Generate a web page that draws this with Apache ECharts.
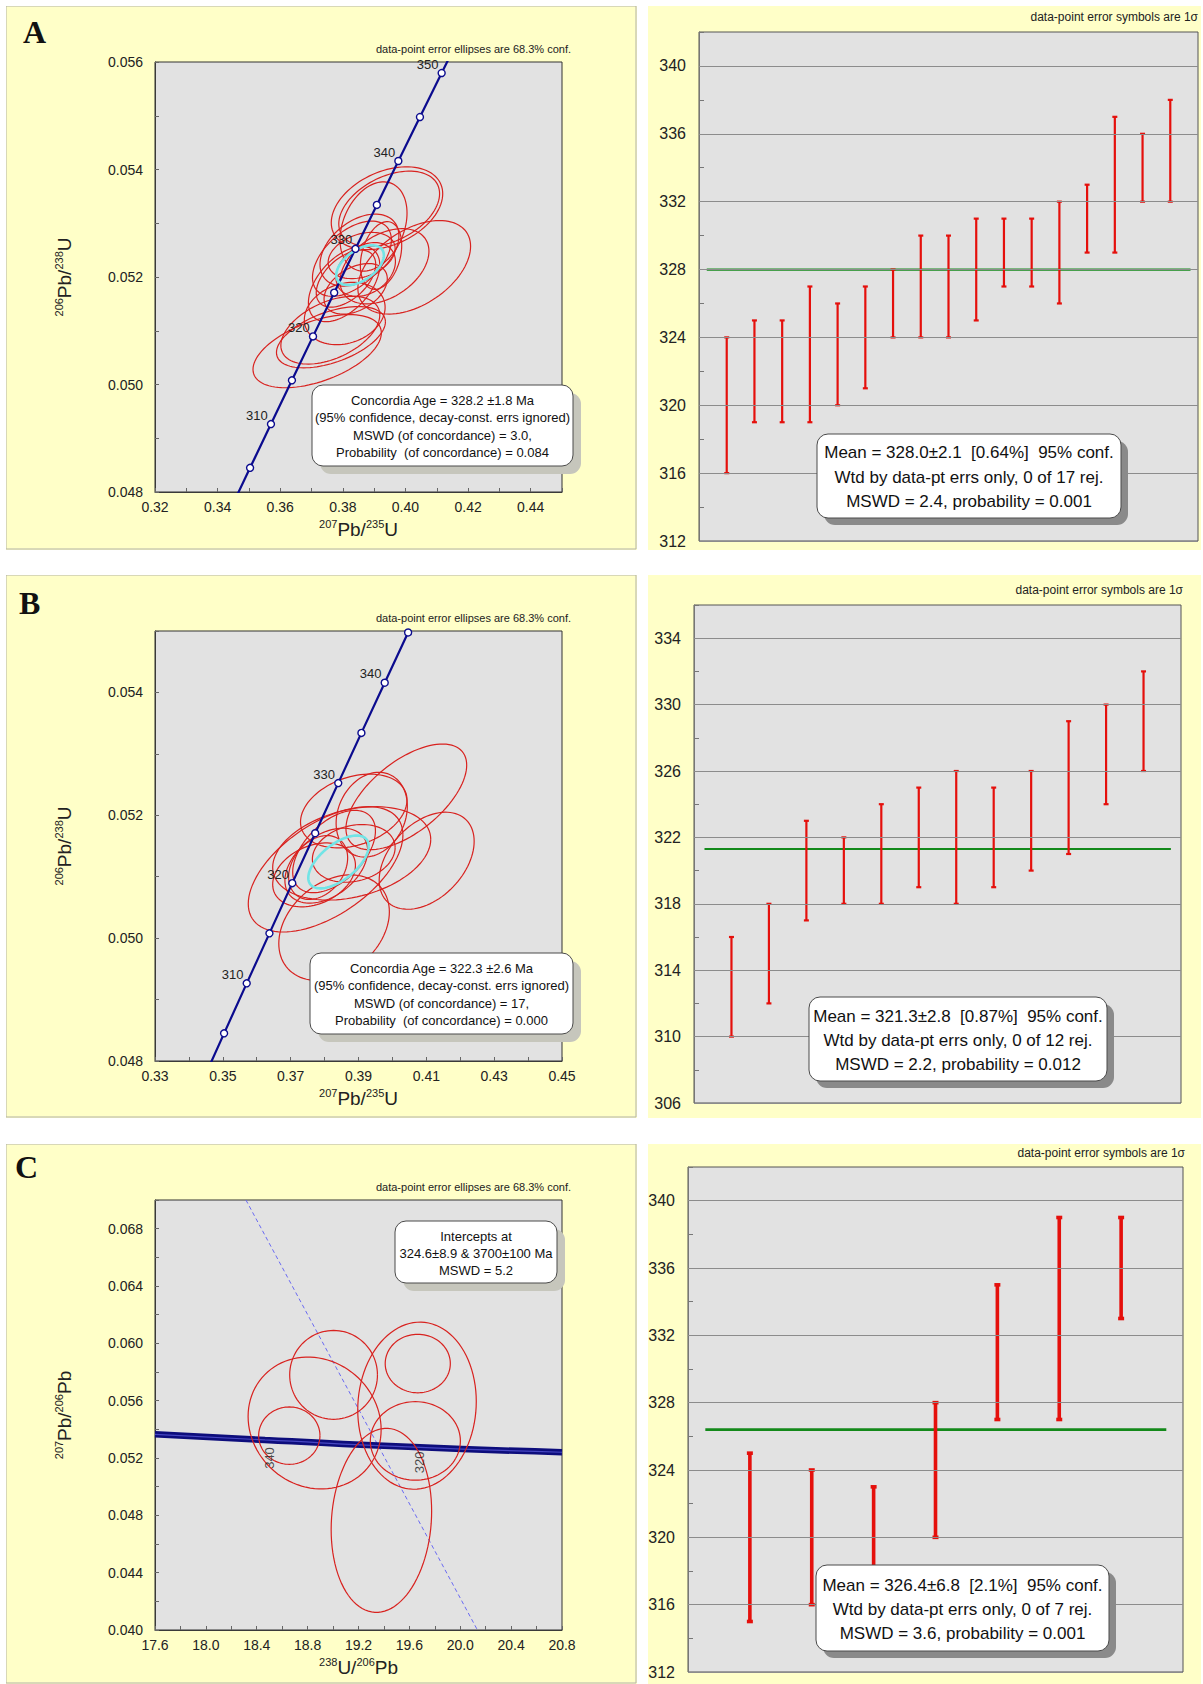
<!DOCTYPE html>
<html>
<head>
<meta charset="utf-8">
<title>U-Pb concordia and weighted mean ages</title>
<script src="https://cdn.jsdelivr.net/npm/echarts@6.0.0/dist/echarts.min.js"></script>
<style>
  html, body { margin: 0; padding: 0; background: #fff; }
  body { position: relative; width: 1203px; height: 1684px; overflow: hidden; }
  .panel { position: absolute; }
</style>
</head>
<body>
<div id="pA1" class="panel" style="left:6px;top:6px;width:631px;height:544px"></div>
<div id="pA2" class="panel" style="left:648px;top:6px;width:553px;height:544px"></div>
<div id="pB1" class="panel" style="left:6px;top:575px;width:631px;height:543px"></div>
<div id="pB2" class="panel" style="left:648px;top:575px;width:553px;height:543px"></div>
<div id="pC1" class="panel" style="left:6px;top:1144px;width:631px;height:540px"></div>
<div id="pC2" class="panel" style="left:648px;top:1144px;width:553px;height:540px"></div>
<script>
const FONT = "'Liberation Sans', Arial, Helvetica, sans-serif";
const RED = '#d8221f';
const NAVY = '#0b0b8e';

// Wetherill concordia, 5 Ma marks (age Ma, 207Pb/235U, 206Pb/238U)
const ccAge = [300, 305, 310, 315, 320, 325, 330, 335, 340, 345, 350, 355];
const cc207_235 = [0.34374, 0.35037, 0.35704, 0.36374, 0.37047, 0.37723, 0.38403, 0.39086, 0.39773, 0.40463, 0.41156, 0.41853];
const cc206_238 = [0.047637, 0.048450, 0.049264, 0.050078, 0.050895, 0.051708, 0.052524, 0.053341, 0.054158, 0.054976, 0.055795, 0.056614];

// error ellipses: [x, y, sx, sy, rho]
const ellA = [
  [0.3718, 0.05062, 0.0205, 0.00068, 0.5],
  [0.3762, 0.05088, 0.0174, 0.00057, 0.5],
  [0.3760, 0.05101, 0.0158, 0.00063, 0.45],
  [0.3806, 0.05132, 0.0129, 0.00058, 0.2],
  [0.3941, 0.05328, 0.0178, 0.00077, 0.35],
  [0.3948, 0.05327, 0.0161, 0.00070, 0.4],
  [0.3898, 0.05294, 0.0107, 0.00083, 0.3],
  [0.4028, 0.05218, 0.0180, 0.00087, 0.45],
  [0.3829, 0.05234, 0.0126, 0.00070, 0.5],
  [0.3853, 0.05250, 0.0126, 0.00067, 0.4],
  [0.3860, 0.05240, 0.0107, 0.00043, 0.3],
  [0.3933, 0.05220, 0.0142, 0.00070, 0.4],
  [0.3804, 0.05187, 0.0114, 0.00070, 0.5],
  [0.3873, 0.05214, 0.0095, 0.00050, 0.3],
  [0.3922, 0.05240, 0.0066, 0.00063, 0.3],
  [0.3841, 0.05178, 0.0101, 0.00047, 0.4],
  [0.3810, 0.05197, 0.0095, 0.00053, 0.5]
];
const ageEllA = [[0.3855, 0.05222, 0.0076, 0.00037, 0.5]];

const ellB = [
  [0.4041, 0.05230, 0.0178, 0.00086, 0.6],
  [0.4101, 0.05126, 0.0140, 0.00079, 0.4],
  [0.3803, 0.05112, 0.0228, 0.00102, 0.55],
  [0.3828, 0.05017, 0.0163, 0.00086, 0.3],
  [0.3886, 0.05207, 0.0157, 0.00060, 0.3],
  [0.3880, 0.05138, 0.0233, 0.00076, 0.3],
  [0.3939, 0.05201, 0.0105, 0.00069, 0.2],
  [0.3805, 0.05118, 0.0122, 0.00061, 0.4],
  [0.3769, 0.05103, 0.0122, 0.00052, 0.3],
  [0.3828, 0.05141, 0.0122, 0.00067, 0.5],
  [0.3886, 0.05138, 0.0122, 0.00047, 0.2],
  [0.3781, 0.05115, 0.0087, 0.00052, 0.3]
];
const ageEllB = [[0.3841, 0.05124, 0.0089, 0.00043, 0.6]];

// Tera-Wasserburg panel
const ellC = [
  [18.855, 0.05444, 0.523, 0.00460, -0.1],
  [19.004, 0.05780, 0.345, 0.00310, 0],
  [18.656, 0.05356, 0.241, 0.00200, 0],
  [19.660, 0.05565, 0.466, 0.00583, 0.05],
  [19.666, 0.05859, 0.256, 0.00204, 0],
  [19.647, 0.05319, 0.354, 0.00274, 0],
  [19.380, 0.04765, 0.395, 0.00642, 0.1]
];
const twX = [17.6, 18.465, 19.637, 20.8];
const twY = [0.05365, 0.05326, 0.05276, 0.05240];
const twLabel = ['340', '320'];
const twLabelX = [18.50, 19.68];
const twLabelY = [0.0520, 0.0517];
const discordX = [18.315, 20.135];
const discordY = [0.070, 0.040];

// weighted-mean plots (1 sigma ranges, Ma)
const loA = [316, 319, 319, 319, 320, 321, 324, 324, 324, 325, 327, 327, 326, 329, 329, 332, 332];
const hiA = [324, 325, 325, 327, 326, 327, 328, 330, 330, 331, 331, 331, 332, 333, 337, 336, 338];
const meanA = 328.0;
const loB = [310, 312, 317, 318, 318, 319, 318, 319, 320, 321, 324, 326];
const hiB = [316, 318, 323, 322, 324, 325, 326, 325, 326, 329, 330, 332];
const meanB = 321.3;
const loC = [315, 316, 317, 320, 327, 327, 333];
const hiC = [325, 324, 323, 328, 335, 339, 339];
const meanC = 326.4;

// tick labels
const xLabA = ['0.32', '0.34', '0.36', '0.38', '0.40', '0.42', '0.44'];
const yLabA = ['0.048', '0.050', '0.052', '0.054', '0.056'];
const xLabB = ['0.33', '0.35', '0.37', '0.39', '0.41', '0.43', '0.45'];
const yLabB = ['0.048', '0.050', '0.052', '0.054'];
const xLabC = ['17.6', '18.0', '18.4', '18.8', '19.2', '19.6', '20.0', '20.4', '20.8'];
const yLabC = ['0.040', '0.044', '0.048', '0.052', '0.056', '0.060', '0.064', '0.068'];
const yLabRA = [312, 316, 320, 324, 328, 332, 336, 340];
const yLabRB = [306, 310, 314, 318, 322, 326, 330, 334];
const yLabRC = [312, 316, 320, 324, 328, 332, 336, 340];

const boxA = ['Concordia Age = 328.2 \u00b11.8 Ma', '(95% confidence, decay-const. errs ignored)', 'MSWD (of concordance) = 3.0,', 'Probability  (of concordance) = 0.084'];
const boxB = ['Concordia Age = 322.3 \u00b12.6 Ma', '(95% confidence, decay-const. errs ignored)', 'MSWD (of concordance) = 17,', 'Probability  (of concordance) = 0.000'];
const boxC = ['Intercepts at', '324.6\u00b18.9 & 3700\u00b1100 Ma', 'MSWD = 5.2'];
const boxRA = ['Mean = 328.0\u00b12.1  [0.64%]  95% conf.', 'Wtd by data-pt errs only, 0 of 17 rej.', 'MSWD = 2.4, probability = 0.001'];
const boxRB = ['Mean = 321.3\u00b12.8  [0.87%]  95% conf.', 'Wtd by data-pt errs only, 0 of 12 rej.', 'MSWD = 2.2, probability = 0.012'];
const boxRC = ['Mean = 326.4\u00b16.8  [2.1%]  95% conf.', 'Wtd by data-pt errs only, 0 of 7 rej.', 'MSWD = 3.6, probability = 0.001'];

const noteL = 'data-point error ellipses are 68.3% conf.';
const noteR = 'data-point error symbols are 1\u03c3';

function pick(list) {
  return function (v) {
    for (const s of list) {
      if (Math.abs(parseFloat(s) - v) < 1e-9) return String(s);
    }
    return '';
  };
}

function ellipseItem(color, width) {
  return function (params, api) {
    const cx = api.value(0), cy = api.value(1), sx = api.value(2), sy = api.value(3), r = api.value(4);
    const k = Math.sqrt(1 - r * r);
    const pts = [];
    for (let i = 0; i <= 96; i++) {
      const t = i / 96 * Math.PI * 2;
      pts.push(api.coord([cx + sx * Math.cos(t), cy + sy * (r * Math.cos(t) + k * Math.sin(t))]));
    }
    return { type: 'polyline', silent: true, shape: { points: pts }, style: { fill: null, stroke: color, lineWidth: width } };
  };
}

function errBarItem(width, cap) {
  return function (params, api) {
    const top = api.coord([api.value(0), api.value(2)]);
    const bot = api.coord([api.value(0), api.value(1)]);
    const st = { stroke: '#e5100c', lineWidth: width };
    return {
      type: 'group', children: [
        { type: 'line', shape: { x1: top[0], y1: top[1], x2: bot[0], y2: bot[1] }, style: st },
        { type: 'line', shape: { x1: top[0] - cap, y1: top[1], x2: top[0] + cap, y2: top[1] }, style: st },
        { type: 'line', shape: { x1: bot[0] - cap, y1: bot[1], x2: bot[0] + cap, y2: bot[1] }, style: st }
      ]
    };
  };
}

function infoBox(b) {
  return [
    { type: 'rect', x: b.x + b.sh, y: b.y + b.sh, z: 100, shape: { width: b.w, height: b.h, r: 11 }, style: { fill: b.shColor } },
    { type: 'rect', x: b.x, y: b.y, z: 101, shape: { width: b.w, height: b.h, r: 11 }, style: { fill: '#fff', stroke: '#4a4a4a', lineWidth: 1 } },
    { type: 'text', x: b.x + b.w / 2, y: b.y + b.h / 2 + 1, z: 102, style: { text: b.lines.join('\n'), fontSize: b.fs, fontFamily: FONT, fill: '#111', align: 'center', verticalAlign: 'middle', lineHeight: b.lh } }
  ];
}

const nameRich = {
  s: { fontSize: 11, fontFamily: FONT, color: '#222', verticalAlign: 'top', lineHeight: 11 },
  b: { fontSize: 19, fontFamily: FONT, color: '#222', lineHeight: 22 }
};

function leftAxis(min, max, step, labels, name, isX) {
  return {
    type: 'value', min: min, max: max, interval: step,
    axisLine: { show: true, onZero: false, lineStyle: { color: '#3a3a3a', width: 1 } },
    axisTick: { show: true, inside: true, length: 4, lineStyle: { color: '#666' } },
    splitLine: { show: false },
    axisLabel: { formatter: pick(labels), color: '#222', fontSize: 14, fontFamily: FONT, margin: isX ? 8 : 12 },
    name: name, nameLocation: 'middle', nameGap: isX ? 21 : 80, nameRotate: isX ? 0 : 90,
    nameTextStyle: { rich: nameRich }
  };
}

function leftOption(p) {
  return {
    animation: false,
    backgroundColor: '#ffffc8',
    grid: { left: 149, top: 56, width: 407, height: 430, show: true, backgroundColor: '#e2e2e2', borderColor: '#333', borderWidth: 1, outerBoundsMode: 'none' },
    xAxis: leftAxis(p.xMin, p.xMax, p.xStep, p.xLab, p.xName, true),
    yAxis: leftAxis(p.yMin, p.yMax, p.yStep, p.yLab, p.yName, false),
    graphic: {
      elements: [
        { type: 'rect', x: 0, y: 0, shape: { width: 630, height: p.h - 1 }, style: { fill: null, stroke: '#b2b2a6', lineWidth: 1 } },
        { type: 'text', x: p.letter[1], y: p.letter[2], style: { text: p.letter[0], fontSize: 32, fontWeight: 'bold', fontFamily: "'Liberation Serif', 'Times New Roman', serif", fill: '#111', align: 'left', verticalAlign: 'middle' } },
        { type: 'text', x: 565, y: p.noteY, style: { text: noteL, fontSize: 11, fontFamily: FONT, fill: '#222', align: 'right', verticalAlign: 'middle' } }
      ].concat(infoBox(p.box))
    },
    series: p.series
  };
}

function wetherillSeries(ell, ageEll, xMin, xMax, yMin, yMax) {
  const curve = ccAge.map((a, i) => [cc207_235[i], cc206_238[i]]);
  const marks = [];
  ccAge.forEach((a, i) => {
    const x = cc207_235[i], y = cc206_238[i];
    if (x >= xMin && x <= xMax && y >= yMin && y <= yMax) {
      marks.push({ value: [x, y, a], label: { show: a % 10 === 0 } });
    }
  });
  return [
    { type: 'custom', renderItem: ellipseItem(RED, 1.2), data: ell, clip: true, z: 2 },
    { type: 'line', data: curve, showSymbol: false, clip: true, lineStyle: { color: NAVY, width: 2.2 }, z: 3 },
    { type: 'custom', renderItem: ellipseItem('#72e4e6', 2.6), data: ageEll, clip: true, z: 4 },
    {
      type: 'scatter', data: marks, symbol: 'circle', symbolSize: 7, z: 5,
      itemStyle: { color: '#ffffff', borderColor: NAVY, borderWidth: 1.4, opacity: 1 },
      label: { position: 'left', distance: 0, offset: [1, -9], formatter: d => String(d.value[2]), color: '#222', fontSize: 13, fontFamily: FONT }
    }
  ];
}

function rightOption(p) {
  const n = p.lo.length;
  return {
    animation: false,
    backgroundColor: '#ffffc8',
    grid: { left: p.grid[0], top: p.grid[1], width: p.grid[2], height: p.grid[3], show: true, backgroundColor: '#e2e2e2', borderColor: '#555', borderWidth: 1, outerBoundsMode: 'none' },
    xAxis: { type: 'value', min: 0, max: n + 1, show: false },
    yAxis: {
      type: 'value', min: p.yMin, max: p.yMax, interval: 2,
      axisLine: { show: true, lineStyle: { color: '#777' } },
      axisTick: { show: true, inside: true, length: 5, lineStyle: { color: '#777' } },
      splitLine: { show: false },
      axisLabel: { formatter: pick(p.yLab), color: '#222', fontSize: 16, fontFamily: FONT, margin: 13 }
    },
    graphic: {
      elements: [
        { type: 'text', x: p.noteX, y: p.noteY, style: { text: noteR, fontSize: 12, fontFamily: FONT, fill: '#222', align: 'right', verticalAlign: 'middle' } }
      ].concat(infoBox(p.box))
    },
    series: [
      {
        type: 'line', data: [[0.28, p.mean], [n + 0.73, p.mean]], symbol: 'none', z: 2,
        lineStyle: { color: '#13891a', width: p.meanW },
        markLine: {
          silent: true, symbol: ['none', 'none'], animation: false, label: { show: false },
          lineStyle: { color: '#8c8c8c', width: 1, type: 'solid' },
          emphasis: { disabled: true },
          data: p.yLab.map(v => ({ yAxis: v }))
        }
      },
      { type: 'custom', renderItem: errBarItem(p.barW, p.cap), data: p.lo.map((l, i) => [i + 1, l, p.hi[i]]), z: 3 }
    ]
  };
}

const shL = '#c6c6bc';
const shR = '#8a8a8a';

// ---- A left
echarts.init(document.getElementById('pA1'), null, { renderer: 'svg' }).setOption(leftOption({
  h: 544, letter: ['A', 17, 26], noteY: 43,
  xMin: 0.32, xMax: 0.45, xStep: 0.01, xLab: xLabA, xName: '{s|207}{b|Pb/}{s|235}{b|U}',
  yMin: 0.048, yMax: 0.056, yStep: 0.001, yLab: yLabA, yName: '{s|206}{b|Pb/}{s|238}{b|U}',
  box: { x: 306, y: 379, w: 261, h: 81, sh: 8, shColor: shL, lines: boxA, fs: 13, lh: 17.5 },
  series: wetherillSeries(ellA, ageEllA, 0.32, 0.45, 0.048, 0.056)
}));

// ---- B left
echarts.init(document.getElementById('pB1'), null, { renderer: 'svg' }).setOption(leftOption({
  h: 543, letter: ['B', 13, 28], noteY: 43,
  xMin: 0.33, xMax: 0.45, xStep: 0.01, xLab: xLabB, xName: '{s|207}{b|Pb/}{s|235}{b|U}',
  yMin: 0.048, yMax: 0.055, yStep: 0.001, yLab: yLabB, yName: '{s|206}{b|Pb/}{s|238}{b|U}',
  box: { x: 304, y: 378, w: 263, h: 81, sh: 8, shColor: shL, lines: boxB, fs: 13, lh: 17.5 },
  series: wetherillSeries(ellB, ageEllB, 0.33, 0.45, 0.048, 0.055)
}));

// ---- C left (Tera-Wasserburg)
const twLabels = twLabel.map((t, i) => ({ value: [twLabelX[i], twLabelY[i]], name: t }));
echarts.init(document.getElementById('pC1'), null, { renderer: 'svg' }).setOption(leftOption({
  h: 540, letter: ['C', 9, 23], noteY: 43,
  xMin: 17.6, xMax: 20.8, xStep: 0.2, xLab: xLabC, xName: '{s|238}{b|U/}{s|206}{b|Pb}',
  yMin: 0.040, yMax: 0.070, yStep: 0.002, yLab: yLabC, yName: '{s|207}{b|Pb/}{s|206}{b|Pb}',
  box: { x: 389, y: 77, w: 162, h: 62, sh: 8, shColor: shL, lines: boxC, fs: 13, lh: 17 },
  series: [
    { type: 'line', data: discordX.map((x, i) => [x, discordY[i]]), showSymbol: false, clip: true, lineStyle: { color: '#6a6af2', width: 1, type: [4, 3] }, z: 2 },
    { type: 'line', data: twX.map((x, i) => [x, twY[i]]), showSymbol: false, clip: true, smooth: true, lineStyle: { color: '#0d0d7c', width: 6.5 }, z: 3 },
    { type: 'line', data: twX.map((x, i) => [x, twY[i]]), showSymbol: false, clip: true, smooth: true, lineStyle: { color: '#4848c2', width: 1.2 }, z: 3 },
    { type: 'custom', renderItem: ellipseItem(RED, 1.2), data: ellC, clip: true, z: 4 },
    {
      type: 'scatter', data: twLabels, symbolSize: 0, z: 5,
      label: { show: true, position: 'inside', rotate: 90, formatter: d => d.name, color: '#222', fontSize: 13, fontFamily: FONT }
    }
  ]
}));

// ---- right panels
echarts.init(document.getElementById('pA2'), null, { renderer: 'svg' }).setOption(rightOption({
  grid: [51, 26, 499, 509], yMin: 312, yMax: 342, yLab: yLabRA,
  lo: loA, hi: hiA, mean: meanA, meanW: 2.2, barW: 2.2, cap: 2.5,
  noteX: 550, noteY: 11,
  box: { x: 169, y: 428, w: 304, h: 84, sh: 7, shColor: shR, lines: boxRA, fs: 17, lh: 24.5 }
}));

echarts.init(document.getElementById('pB2'), null, { renderer: 'svg' }).setOption(rightOption({
  grid: [46, 30, 487, 498], yMin: 306, yMax: 336, yLab: yLabRB,
  lo: loB, hi: hiB, mean: meanB, meanW: 2.2, barW: 2.2, cap: 2.5,
  noteX: 535, noteY: 15,
  box: { x: 161, y: 422, w: 298, h: 84, sh: 7, shColor: shR, lines: boxRB, fs: 17, lh: 24 }
}));

echarts.init(document.getElementById('pC2'), null, { renderer: 'svg' }).setOption(rightOption({
  grid: [40, 23, 495, 505], yMin: 312, yMax: 342, yLab: yLabRC,
  lo: loC, hi: hiC, mean: meanC, meanW: 2.6, barW: 3.6, cap: 3,
  noteX: 537, noteY: 9,
  box: { x: 168, y: 421, w: 293, h: 86, sh: 7, shColor: shR, lines: boxRC, fs: 17, lh: 24 }
}));
</script>
</body>
</html>
